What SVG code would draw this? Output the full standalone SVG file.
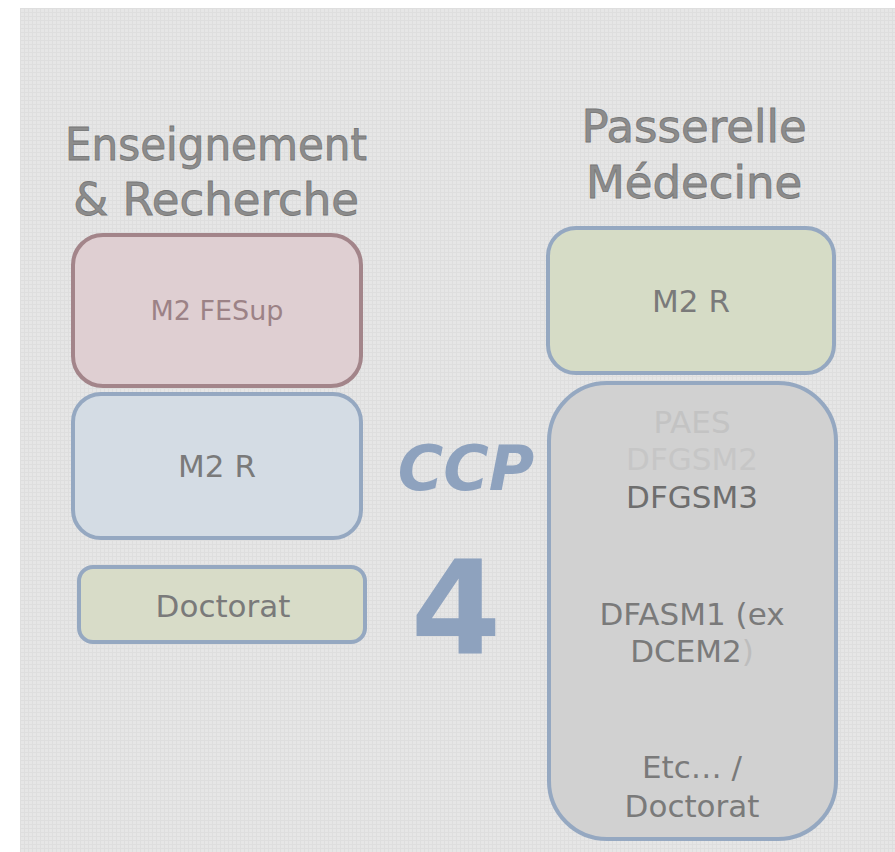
<svg xmlns="http://www.w3.org/2000/svg" width="895" height="852" viewBox="0 0 895 852">
<defs>
<pattern id="grid" width="4" height="4" patternUnits="userSpaceOnUse">
<rect width="4" height="4" fill="#e6e6e6"/>
<rect x="0" y="0" width="4" height="1" fill="#dedede"/>
<rect x="0" y="0" width="1" height="4" fill="#dedede"/>
</pattern>
</defs>
<style>
.t{font-family:"DejaVu Sans","Noto Sans",sans-serif;text-anchor:middle;}
.title{font-size:45px;fill:#8c8c8c;stroke:#777;stroke-width:0.8;}
.lbl{font-size:31px;fill:#7a7a7a;}
.box{stroke-width:4;}
.blue{stroke:#95a8c1;}
</style>
<rect width="895" height="852" fill="#ffffff"/>
<rect x="20" y="8" width="875" height="844" fill="url(#grid)"/>
<g id="title-left">
<text class="t title" x="216" y="160" textLength="302" lengthAdjust="spacingAndGlyphs">Enseignement</text>
<text class="t title" x="216" y="215">&amp; Recherche</text>
</g>
<g id="title-right">
<text class="t title" x="694" y="142">Passerelle</text>
<text class="t title" x="694" y="198">Médecine</text>
</g>
<g id="m2fesup">
<rect class="box" x="73" y="235" width="288" height="151" rx="30" fill="#dfcfd2" stroke="#a3858a"/>
<text class="t lbl" x="217" y="320" style="font-size:27px;fill:#9c8286">M2 FESup</text>
</g>
<g id="m2r-left">
<rect class="box blue" x="73" y="394" width="288" height="144" rx="28" fill="#d4dce4"/>
<text class="t lbl" x="217" y="477">M2 R</text>
</g>
<g id="doctorat-left">
<rect class="box blue" x="79" y="567" width="286" height="75" rx="14" fill="#d8dcc8"/>
<text class="t lbl" x="223" y="617">Doctorat</text>
</g>
<g id="ccp4">
<text class="t" x="466" y="490" style="font-size:62px;font-weight:bold;font-style:italic;fill:#8ea2be">CCP</text>
<text class="t" x="456" y="653" style="font-size:130px;font-weight:bold;fill:#8ea2be">4</text>
</g>
<g id="m2r-right">
<rect class="box blue" x="548" y="228" width="286" height="145" rx="28" fill="#d6dcc6"/>
<text class="t lbl" x="691" y="312">M2 R</text>
</g>
<g id="medecine">
<rect class="box blue" x="549" y="383" width="287" height="456" rx="58" fill="#d1d1d1"/>
<text class="t lbl" x="692" y="433" style="fill:#c3c3c3">PAES</text>
<text class="t lbl" x="692" y="470" style="fill:#c6c6c6">DFGSM2</text>
<text class="t lbl" x="692" y="508" style="fill:#6e6e6e">DFGSM3</text>
<text class="t lbl" x="692" y="625">DFASM1 (ex</text>
<text class="t lbl" x="692" y="662">DCEM2<tspan style="fill:#bdbdbd">)</tspan></text>
<text class="t lbl" x="692" y="778">Etc… /</text>
<text class="t lbl" x="692" y="817">Doctorat</text>
</g>
</svg>
